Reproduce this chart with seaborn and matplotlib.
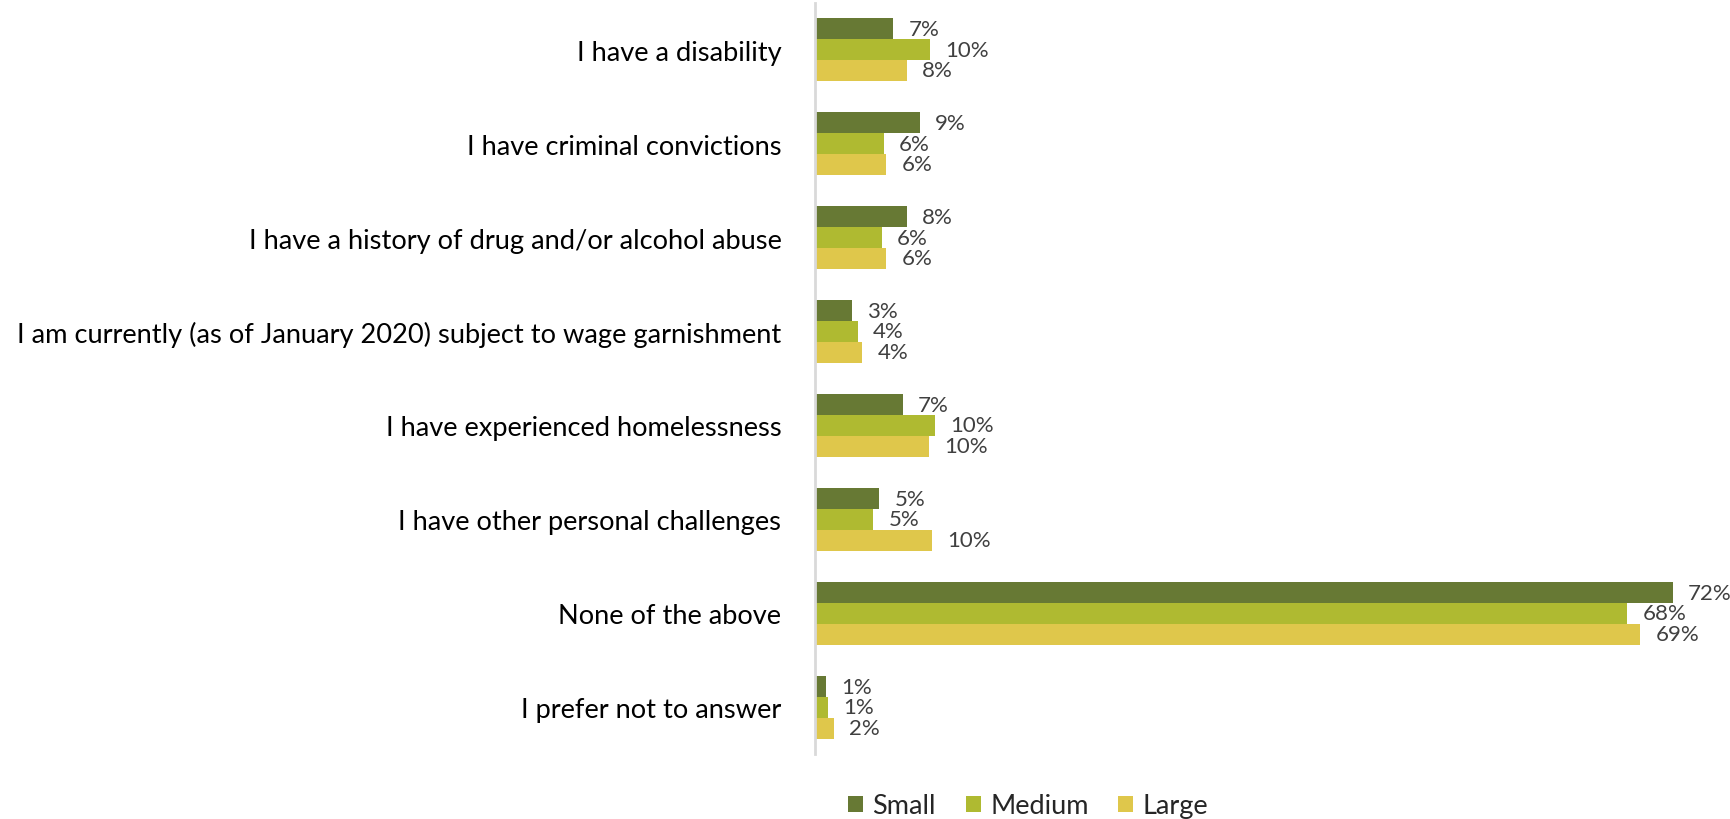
import matplotlib
matplotlib.use("Agg")
import matplotlib.pyplot as plt
import seaborn as sns
import pandas as pd

challenges = [
    "I have a disability",
    "I have criminal convictions",
    "I have a history of drug and/or alcohol abuse",
    "I am currently (as of January 2020) subject to wage garnishment",
    "I have experienced homelessness",
    "I have other personal challenges",
    "None of the above",
    "I prefer not to answer",
]
sizes = ["Small", "Medium", "Large"]
small = [6.6, 8.8, 7.7, 3.1, 7.4, 5.4, 72.0, 0.9]
medium = [9.7, 5.8, 5.6, 3.6, 10.1, 4.9, 68.2, 1.1]
large = [7.7, 6.0, 6.0, 4.0, 9.6, 9.8, 69.3, 1.6]
colors = ["#677934", "#afba31", "#dfc74b"]

df = pd.DataFrame({
    "challenge": challenges * 3,
    "size": [s for s in sizes for _ in challenges],
    "pct": small + medium + large,
})

sns.set_theme(style="white")
plt.rcParams["font.family"] = ["Lato", "DejaVu Sans"]

fig = plt.figure(figsize=(17.31, 8.2), dpi=100)
ax = fig.add_axes([0.4707, 0.0787, 0.5293, 0.917])

sns.barplot(data=df, y="challenge", x="pct", hue="size", orient="h",
            palette=colors, width=0.664, gap=0, ax=ax, legend=True,
            linewidth=0, saturation=1)

for cont in ax.containers:
    ax.bar_label(cont, labels=[f"{v:.0f}%" for v in cont.datavalues],
                 padding=11, fontsize=16, color="#404040")

ax.set_xlim(0, 76.9)
ax.set_ylim(7.5, -0.5)
ax.set_xlabel("")
ax.set_ylabel("")
ax.set_xticks([])
ax.tick_params(axis="y", length=0, pad=24, labelsize=19.6, labelcolor="black")
for side in ["top", "right", "bottom"]:
    ax.spines[side].set_visible(False)
ax.spines["left"].set_color("#d9d9d9")
ax.spines["left"].set_linewidth(2)

handles, labels = ax.get_legend_handles_labels()
ax.get_legend().remove()
fig.legend(handles, labels, loc="center", bbox_to_anchor=(0.594, 0.016),
           ncol=3, frameon=False, fontsize=19.5, handlelength=0.55,
           handleheight=0.55, handletextpad=0.35, columnspacing=1.1)

fig.savefig("out.png", dpi=100, facecolor="white")
